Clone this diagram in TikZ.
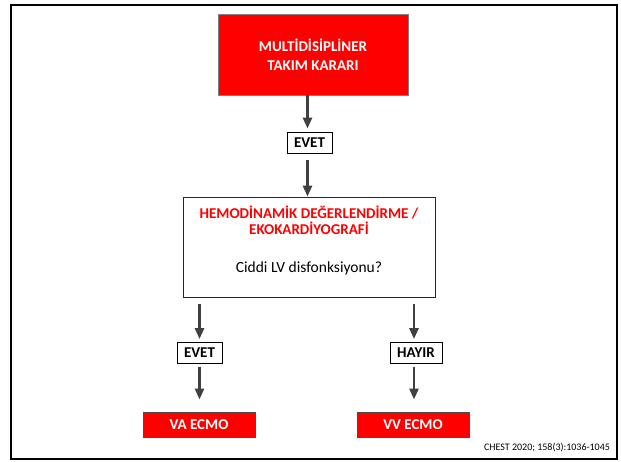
\documentclass[tikz,border=0pt]{standalone}
\usepackage{fontspec}
\setmainfont{Carlito}
\usetikzlibrary{arrows.meta,positioning}

\definecolor{slidered}{RGB}{255,0,0}

\begin{document}
\begin{tikzpicture}[x = 1pt, y = -1pt,
        redbox/.style={fill=slidered, draw=gray, line width=0.8pt, inner sep=0pt,
            text=white, font=\bfseries\fontsize{15}{19}\selectfont, align=center},
        answer/.style={draw=black, line width=0.8pt, fill=white, inner sep=0pt,
            minimum height=21pt, font=\bfseries\fontsize{15}{17}\selectfont},
        flow/.style={-{Triangle[length=11pt, width=9pt]}, line width=2.6pt, draw=black!75}]
        \useasboundingbox (0,0) rectangle (621,461);
        \draw [line width=2.5pt] (11,5) rectangle (617,459);
        \node (team) at (313,54.5) [redbox, minimum width=190pt, minimum height=81pt] {MULTİDİSİPLİNER\\TAKIM KARARI};
        \node (yes1) at (309.5,142.5) [answer, minimum width=45pt] {EVET};
        \node (hemo) at (309,247) [draw=black!85, line width=0.8pt, minimum width=252pt, minimum height=100pt] {};
        \node (title) at (309,220) [text=slidered, font=\bfseries\fontsize{15}{16}\selectfont, align=center] {HEMODİNAMİK DEĞERLENDİRME /\\EKOKARDİYOGRAFİ};
        \node (ask) at (309,268) [font=\fontsize{15.5}{17}\selectfont] {Ciddi LV disfonksiyonu?};
        \node (yes2) at (199.5,353) [answer, minimum width=45pt] {EVET};
        \node (no) at (416,353) [answer, minimum width=52pt] {HAYIR};
        \node (va) at (199,424.5) [redbox, draw=black!70, line width=1pt, minimum width=112pt, minimum height=25pt] {VA ECMO};
        \node (vv) at (413,424.5) [redbox, draw=black!70, line width=1pt, minimum width=112pt, minimum height=25pt] {VV ECMO};
        \node (cite) at (547,448) [font=\fontsize{10}{11}\selectfont] {CHEST 2020; 158(3):1036-1045};
        \draw [flow, shorten >=3pt] ([xshift=-2pt]team.south -| yes1) -- ([xshift=-2pt]yes1.north);
        \draw [flow, shorten <=7pt] ([xshift=-2pt]yes1.south) -- ([xshift=-2pt]yes1.south |- hemo.north);
        \draw [flow, shorten <=7pt, shorten >=3pt] (hemo.south -| yes2) -- (yes2.north);
        \draw [flow, shorten <=7pt, shorten >=3pt] ([xshift=-2pt]hemo.south -| no) -- ([xshift=-2pt]no.north);
        \draw [flow, shorten <=3pt, shorten >=12pt] (yes2.south) -- (va.north -| yes2);
        \draw [flow, shorten <=3pt, shorten >=12pt] ([xshift=-2pt]no.south) -- ([xshift=-2pt]vv.north -| no);
    \end{tikzpicture}
\end{document}
